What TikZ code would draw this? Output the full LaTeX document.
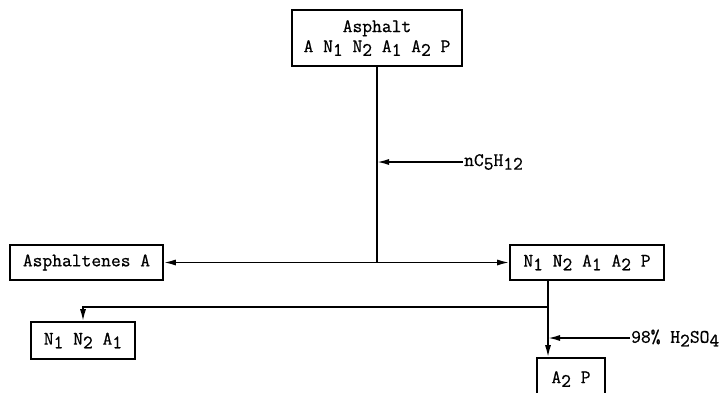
\documentclass[tikz,border=0pt]{standalone}
\usepackage{fontspec}
\setmonofont{Latin Modern Mono}[FakeBold=0.7]
\usetikzlibrary{arrows.meta}
\newcommand{\lo}[1]{\raisebox{-0.45ex}{#1}}

\begin{document}
\begin{tikzpicture}[x=1pt,y=-1pt,
	box/.style={draw, line width=1.6pt, font=\fontsize{19}{20}\selectfont\ttfamily, inner xsep=0pt, minimum height=35pt},
	feed/.style={font=\fontsize{19}{20}\selectfont\ttfamily, anchor=west, inner sep=1pt},
	flow/.style={line width=1.6pt, -{Latex[length=12pt,width=6pt]}}]
	\useasboundingbox (0,0) rectangle (720,392);
	\node[box, minimum width=170pt, minimum height=56pt, align=center] (asphalt) at (377,38) {Asphalt\\A N\lo{1} N\lo{2} A\lo{1} A\lo{2} P};
	\node[box, minimum width=153pt] (asphaltenes) at (86.5,262.5) {Asphaltenes A};
	\node[box, minimum width=154pt] (maltenes) at (587,262.5) {N\lo{1} N\lo{2} A\lo{1} A\lo{2} P};
	\node[box, minimum width=104pt, minimum height=37pt] (neutral) at (83,340.5) {N\lo{1} N\lo{2} A\lo{1}};
	\node[box, minimum width=68pt, minimum height=42pt] (resins) at (571,379) {A\lo{2} P};
	\node[feed] (pentane) at (463,162) {nC\lo{5}H\lo{12}};
	\node[feed] (acid) at (630,338) {98\% H\lo{2}SO\lo{4}};
	% pentane split
	\coordinate (split) at (asphalt.south |- asphaltenes.east);
	\draw[line width=1.6pt] (asphalt.south) -- (split);
	\draw[flow] (split) -- (asphaltenes.east);
	\draw[flow] (split) -- (maltenes.west);
	\draw[flow] (pentane.west) -- (pentane.west -| split);
	% acid split
	\coordinate (drop) at (548,307);
	\draw[flow] (maltenes.south -| drop) -- (resins.north -| drop);
	\draw[flow] (drop) -| (neutral.north);
	\draw[flow] (acid.west) -- (acid.west -| drop);
\end{tikzpicture}
\end{document}
